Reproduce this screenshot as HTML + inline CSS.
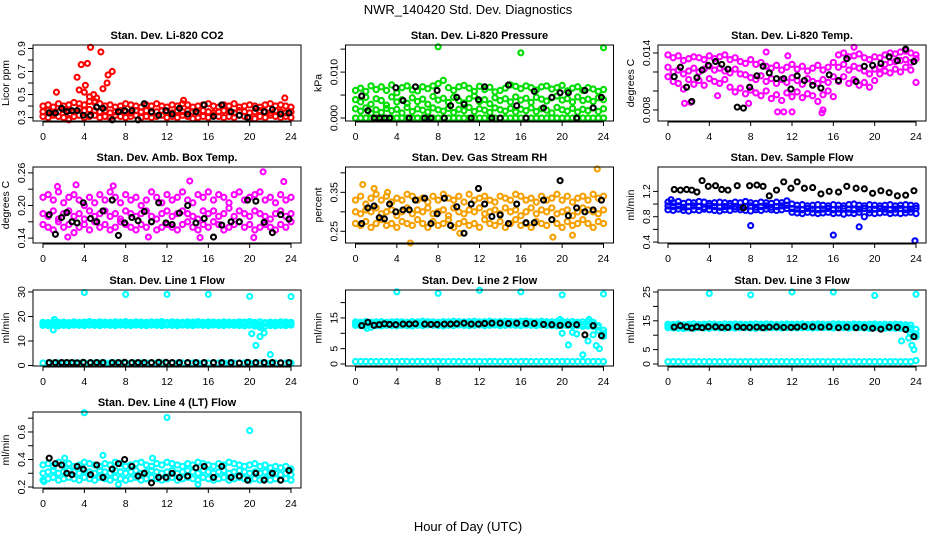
<!DOCTYPE html>
<html><head><meta charset="utf-8"><style>
html,body{margin:0;padding:0;background:#fff}
svg{display:block;font-family:"Liberation Sans",sans-serif}
</style></head><body>
<svg id="c" width="936" height="540" viewBox="0 0 936 540" xmlns="http://www.w3.org/2000/svg">
<text x="468" y="14" text-anchor="middle" font-size="13">NWR_140420  Std. Dev. Diagnostics</text>
<text x="468" y="531" text-anchor="middle" font-size="13">Hour of Day (UTC)</text>
</svg>
<script>
const xTicks=[0,4,8,12,16,20,24];
const blkHours=[0.6,1.2,1.8,2.3,2.8,3.3,3.9,4.6,5.2,5.8,6.7,7.3,7.9,8.6,9.2,9.8,10.5,11.2,11.9,12.5,13.2,14.0,14.8,15.6,16.5,17.3,18.2,19.0,19.8,20.6,21.4,22.2,23.0,23.8];

const co2Hi=[0.40,0.41,0.39,0.42,0.40,0.41,0.43,0.42,0.41,0.44,0.43,0.42,0.40,0.41,0.39,0.40,0.42,0.41,0.40,0.39,0.41,0.40,0.42,0.40,0.39,0.41,0.40,0.42,0.41,0.39,0.40,0.41,0.42,0.40,0.39,0.41,0.40,0.42,0.39,0.40,0.41,0.40,0.39,0.41,0.42,0.40,0.41,0.40,0.39];
const co2Mid=[0.35,0.36,0.34,0.35,0.37,0.36,0.35,0.38,0.36,0.37,0.36,0.35,0.36,0.34,0.35,0.36,0.35,0.34,0.36,0.35,0.36,0.34,0.35,0.36,0.35,0.34,0.36,0.35,0.36,0.35,0.34,0.36,0.35,0.34,0.35,0.36,0.35,0.34,0.36,0.35,0.34,0.35,0.36,0.35,0.34,0.36,0.35,0.34,0.35];
const co2Lo=[0.31,0.30,0.32,0.31,0.30,0.29,0.31,0.32,0.30,0.31,0.32,0.30,0.31,0.30,0.32,0.31,0.30,0.31,0.32,0.30,0.31,0.30,0.31,0.32,0.30,0.31,0.30,0.32,0.31,0.29,0.30,0.31,0.30,0.32,0.31,0.30,0.31,0.30,0.32,0.31,0.30,0.29,0.31,0.30,0.32,0.31,0.30,0.31,0.30];
const co2OutX=[1.3,3.3,3.5,3.7,4.3,4.6,5.6,6.3,6.7,6.2,5.8,4.1,4.9,5.2,4.5,13.6,23.4,2.5,4.0,5.0];
const co2OutY=[0.52,0.65,0.54,0.76,0.77,0.91,0.87,0.67,0.70,0.60,0.55,0.58,0.50,0.47,0.48,0.45,0.47,0.28,0.52,0.44];
const co2Blk=[0.34,0.34,0.38,0.35,0.36,0.36,0.32,0.32,0.39,0.38,0.28,0.35,0.36,0.36,0.28,0.42,0.35,0.32,0.36,0.33,0.38,0.33,0.35,0.41,0.31,0.41,0.35,0.32,0.30,0.38,0.35,0.37,0.33,0.34];

const prsHi=[0.006,0.0065,0.0058,0.007,0.0062,0.0068,0.006,0.0072,0.0055,0.0066,0.007,0.0061,0.0059,0.0068,0.0064,0.007,0.0075,0.0082,0.0066,0.006,0.0068,0.0071,0.0065,0.0058,0.0069,0.0062,0.0067,0.0057,0.006,0.0065,0.0072,0.0069,0.0064,0.007,0.0066,0.0061,0.0068,0.007,0.0063,0.0066,0.0071,0.0059,0.0065,0.0068,0.006,0.0066,0.0063,0.0058,0.0062];
const prsMid=[0.004,0.0035,0.0045,0.003,0.0042,0.0038,0.0028,0.0046,0.0035,0.004,0.0032,0.0044,0.0036,0.0041,0.003,0.0047,0.0039,0.0043,0.0034,0.0045,0.0038,0.0033,0.0042,0.0048,0.0036,0.004,0.0031,0.0044,0.0038,0.0042,0.0035,0.0046,0.0039,0.0043,0.0034,0.0045,0.0041,0.0037,0.0044,0.0048,0.0039,0.0042,0.0035,0.0046,0.0038,0.0041,0.0036,0.0044,0.004];
const prsLo=[0.002,0.0015,0.0022,0.001,0.0018,0.0012,0.0021,0.0016,0.0019,0.0011,0.0023,0.0014,0.002,0.0017,0.0013,0.0022,0.0018,0.0015,0.0021,0.0012,0.0019,0.0016,0.0023,0.0014,0.002,0.0017,0.0012,0.0022,0.0018,0.0015,0.0021,0.0013,0.0019,0.0016,0.0022,0.0014,0.002,0.0017,0.0011,0.0023,0.0018,0.0015,0.0021,0.0013,0.0019,0.0016,0.0022,0.0014,0.002];
const prsBase=[0,0,0,0,0,0,0,0,0,0,0,0,0,0,0,0,0,0,0,0,0,0,0,0,0,0,0,0,0,0,0,0,0,0,0,0,0,0,0,0,0,0,0,0,0,0,0,0,0];
const prsOutX=[8,16,24];
const prsOutY=[0.0155,0.0142,0.0153];
const prsBlk=[0.0048,0.0016,0,0,0,0,0.0066,0.0038,0,0.0068,0,0,0.006,0,0.0027,0.0045,0.003,0,0.004,0.0068,0,0,0.0072,0.0027,0,0.0058,0.0022,0.0045,0.0055,0.0055,0,0.006,0.0022,0.0045];

const tmpHi=[0.0138,0.0135,0.0137,0.0132,0.0134,0.0136,0.0135,0.0133,0.0137,0.0134,0.0136,0.0138,0.0133,0.0135,0.0131,0.0129,0.0133,0.0128,0.0130,0.0126,0.0124,0.0127,0.0122,0.0125,0.0128,0.0123,0.0126,0.0121,0.0124,0.0127,0.0122,0.0125,0.0130,0.0138,0.0140,0.0136,0.0137,0.0139,0.0135,0.0133,0.0136,0.0135,0.0138,0.0140,0.0139,0.0141,0.0142,0.0140,0.0138];
const tmpMid=[0.0125,0.0120,0.0122,0.0118,0.0121,0.0124,0.0120,0.0123,0.0126,0.0122,0.0124,0.0121,0.0119,0.0123,0.0118,0.0117,0.0114,0.0112,0.0116,0.0110,0.0113,0.0108,0.0112,0.0109,0.0114,0.0111,0.0107,0.0113,0.0110,0.0108,0.0112,0.0109,0.0115,0.0125,0.0128,0.0122,0.0126,0.0124,0.0121,0.0118,0.0123,0.0125,0.0128,0.0130,0.0131,0.0132,0.0133,0.0130,0.0134];
const tmpLo=[0.0115,0.0110,0.0108,0.0102,0.0112,0.0107,0.0111,0.0106,0.0113,0.0110,0.0108,0.0112,0.0104,0.0099,0.0103,0.0097,0.0101,0.0098,0.0095,0.0100,0.0092,0.0096,0.0090,0.0098,0.0094,0.0099,0.0093,0.0097,0.0095,0.0089,0.0096,0.0100,0.0094,0.0110,0.0115,0.0108,0.0112,0.0106,0.0109,0.0104,0.0111,0.0118,0.0121,0.0119,0.0123,0.0120,0.0125,0.0122,0.0109];
const tmpOutX=[4.8,7.8,10.6,11.2,12,14.9,15,18,9.5,11.6,1.6,2.2];
const tmpOutY=[0.0095,0.0087,0.0078,0.0078,0.0078,0.0077,0.0080,0.0146,0.0141,0.0137,0.0087,0.0088];
const tmpBlk=[0.0115,0.0125,0.0104,0.0089,0.0114,0.0122,0.0127,0.0131,0.0128,0.0123,0.0083,0.0082,0.0104,0.0116,0.0126,0.0119,0.0113,0.0113,0.0102,0.0116,0.0111,0.0106,0.0103,0.0117,0.0111,0.0134,0.0110,0.0126,0.0127,0.0129,0.0136,0.0132,0.0144,0.0131];

const ambHi=[0.215,0.22,0.21,0.225,0.205,0.215,0.22,0.21,0.2,0.215,0.205,0.22,0.21,0.225,0.215,0.205,0.22,0.21,0.215,0.2,0.21,0.225,0.215,0.205,0.22,0.21,0.215,0.225,0.21,0.205,0.22,0.215,0.225,0.21,0.22,0.215,0.205,0.22,0.225,0.21,0.215,0.22,0.225,0.21,0.215,0.205,0.22,0.21,0.215];
const ambMid=[0.185,0.18,0.19,0.175,0.185,0.19,0.18,0.185,0.175,0.19,0.18,0.185,0.19,0.18,0.185,0.175,0.19,0.185,0.18,0.185,0.19,0.18,0.175,0.185,0.19,0.18,0.185,0.19,0.185,0.18,0.175,0.19,0.185,0.19,0.18,0.185,0.195,0.18,0.19,0.185,0.18,0.19,0.185,0.18,0.175,0.185,0.19,0.18,0.185];
const ambLo=[0.165,0.16,0.155,0.17,0.16,0.165,0.15,0.16,0.165,0.155,0.17,0.16,0.165,0.155,0.16,0.17,0.165,0.16,0.155,0.165,0.16,0.17,0.155,0.16,0.165,0.16,0.155,0.165,0.17,0.16,0.155,0.165,0.16,0.17,0.165,0.155,0.16,0.165,0.17,0.16,0.165,0.155,0.16,0.165,0.16,0.155,0.165,0.16,0.17];
const ambOutX=[1.4,3.2,6.8,14.2,21.3,23.3,2.4,10.2,20.4,15.2];
const ambOutY=[0.235,0.238,0.236,0.245,0.262,0.244,0.142,0.142,0.141,0.141];
const ambBlk=[0.183,0.147,0.178,0.187,0.170,0.168,0.205,0.176,0.170,0.190,0.210,0.145,0.168,0.178,0.172,0.189,0.170,0.205,0.168,0.165,0.186,0.200,0.168,0.176,0.142,0.164,0.170,0.170,0.210,0.208,0.169,0.150,0.183,0.175];

const rhHi=[0.33,0.34,0.32,0.335,0.345,0.33,0.34,0.325,0.335,0.33,0.345,0.34,0.33,0.335,0.325,0.34,0.33,0.345,0.335,0.33,0.34,0.325,0.345,0.33,0.335,0.34,0.33,0.325,0.34,0.335,0.33,0.345,0.34,0.33,0.335,0.325,0.34,0.33,0.335,0.345,0.33,0.34,0.325,0.335,0.34,0.33,0.345,0.335,0.34];
const rhMid=[0.30,0.295,0.305,0.30,0.31,0.295,0.30,0.305,0.29,0.30,0.31,0.295,0.305,0.30,0.31,0.295,0.30,0.305,0.29,0.31,0.30,0.295,0.305,0.30,0.31,0.295,0.30,0.305,0.295,0.31,0.30,0.305,0.29,0.30,0.31,0.295,0.305,0.30,0.31,0.295,0.30,0.305,0.29,0.30,0.31,0.305,0.30,0.295,0.305];
const rhLo=[0.27,0.265,0.275,0.26,0.27,0.28,0.265,0.27,0.26,0.275,0.27,0.265,0.28,0.27,0.26,0.275,0.265,0.27,0.28,0.26,0.27,0.275,0.265,0.27,0.26,0.28,0.27,0.265,0.275,0.26,0.27,0.28,0.265,0.27,0.26,0.275,0.27,0.265,0.28,0.27,0.26,0.275,0.265,0.27,0.28,0.27,0.26,0.275,0.27];
const rhOutX=[0.7,1.8,5.3,23.4,19.1,21,10.1,3.1];
const rhOutY=[0.37,0.36,0.22,0.41,0.235,0.24,0.245,0.35];
const rhBlk=[0.27,0.31,0.315,0.285,0.282,0.32,0.30,0.305,0.305,0.33,0.335,0.27,0.295,0.335,0.265,0.313,0.245,0.32,0.36,0.32,0.288,0.292,0.27,0.32,0.272,0.272,0.33,0.28,0.38,0.29,0.31,0.30,0.305,0.33];

const sfHi=[1.03,1.02,1.04,1.01,1.03,1.02,1.04,1.03,1.01,1.02,1.03,1.02,1.01,1.03,1.02,1.04,1.02,1.01,1.03,1.02,1.01,1.03,1.02,1.05,1.0,0.98,0.99,0.97,0.98,0.99,0.98,0.97,0.99,0.98,0.97,0.99,1.0,0.98,0.97,0.99,0.98,0.97,0.98,0.99,0.97,0.98,0.99,0.98,0.97];
const sfMid=[0.97,0.96,0.97,0.95,0.96,0.97,0.96,0.95,0.97,0.96,0.95,0.96,0.97,0.96,0.95,0.96,0.97,0.95,0.96,0.97,0.95,0.96,0.97,0.98,0.93,0.92,0.91,0.93,0.92,0.91,0.92,0.93,0.91,0.92,0.93,0.92,0.91,0.92,0.93,0.91,0.92,0.93,0.92,0.91,0.92,0.93,0.91,0.92,0.93];
const sfLo=[0.91,0.90,0.92,0.90,0.89,0.91,0.90,0.92,0.91,0.90,0.89,0.91,0.90,0.92,0.91,0.90,0.89,0.91,0.90,0.92,0.91,0.90,0.91,0.93,0.87,0.86,0.85,0.87,0.86,0.85,0.86,0.87,0.85,0.86,0.84,0.86,0.85,0.87,0.80,0.86,0.85,0.86,0.87,0.85,0.86,0.85,0.86,0.87,0.85];
const sfOutX=[8,16,18.5,23.9,0.3];
const sfOutY=[0.66,0.51,0.64,0.42,1.07];
const sfBlk=[1.23,1.22,1.23,1.22,1.19,1.37,1.28,1.29,1.23,1.22,1.29,0.94,1.29,1.30,1.28,1.13,1.22,1.35,1.25,1.35,1.25,1.26,1.16,1.20,1.19,1.28,1.25,1.24,1.17,1.21,1.18,1.13,1.14,1.21];

const l1Hi=[17.6,17.5,17.8,17.6,17.7,17.5,17.8,17.6,17.7,17.9,17.6,17.8,17.7,17.6,17.8,17.7,17.9,17.6,17.8,17.7,17.6,17.8,17.7,17.9,17.6,17.8,17.7,17.6,17.8,17.7,17.9,17.6,17.8,17.7,17.6,17.8,17.7,17.6,17.8,17.7,17.9,17.6,17.8,17.5,17.7,17.6,17.8,17.7,17.6];
const l1Mid=[17.0,16.9,17.1,17.0,16.9,17.1,17.0,17.1,16.9,17.0,17.1,17.0,16.9,17.1,17.0,17.1,17.0,16.9,17.1,17.0,17.1,16.9,17.0,17.1,17.0,16.9,17.1,17.0,17.1,16.9,17.0,17.1,17.0,16.9,17.1,17.0,17.1,16.9,17.0,17.1,17.0,16.9,16.8,17.0,16.9,17.0,16.9,17.0,17.1];
const l1Lo=[16.4,16.3,16.5,16.2,16.4,16.3,16.5,16.4,16.3,16.5,16.4,16.3,16.5,16.4,16.3,16.5,16.4,16.3,16.5,16.4,16.3,16.5,16.4,16.3,16.5,16.4,16.3,16.5,16.4,16.3,16.5,16.4,16.3,16.5,16.4,16.3,16.5,16.4,16.3,16.2,16.4,16.1,16.2,16.0,16.3,16.2,16.4,16.3,16.5];
const l1Base=[1.0,1.0,1.0,1.0,1.0,1.0,1.0,1.0,1.0,1.0,1.0,1.0,1.0,1.0,1.0,1.0,1.0,1.0,1.0,1.0,1.0,1.0,1.0,1.0,1.0,1.0,1.0,1.0,1.0,1.0,1.0,1.0,1.0,1.0,1.0,1.0,1.0,1.0,1.0,1.0,1.0,1.0,1.0,1.0,1.0,1.0,1.0,1.0,1.0];
const l1OutX=[1.1,1.0,4,8,12,16,20,24,20.2,20.6,21,21.4,21.0,22];
const l1OutY=[18.8,14.5,29.8,29,29,29,28.2,28.1,13,8.2,11.8,13.3,15.5,4.5];
const l1Blk=[1.2,1.2,1.2,1.2,1.2,1.1,1.3,1.2,1.2,1.2,1.2,1.2,1.3,1.2,1.2,1.2,1.2,1.3,1.3,1.2,1.2,1.2,1.2,1.2,1.2,1.2,1.2,1.0,1.3,1.2,1.2,1.2,1.1,1.2];

const l2Hi=[13.7,13.6,13.8,13.6,13.7,13.8,13.6,13.7,13.8,13.7,13.6,13.8,13.7,13.9,13.8,13.7,13.6,13.8,13.7,13.9,13.8,13.7,13.8,13.9,13.7,13.8,13.9,13.7,13.8,13.9,13.8,13.7,13.9,14.0,13.8,13.7,13.9,13.8,13.7,13.8,13.9,13.7,13.8,13.6,13.7,13.8,13.6,12.5,11.0];
const l2Mid=[13.1,13.0,13.2,12.9,13.1,13.0,13.2,13.1,13.0,13.2,13.1,13.0,13.2,13.1,13.3,13.2,13.1,13.0,13.2,13.1,13.3,13.2,13.1,13.2,13.3,13.1,13.2,13.3,13.1,13.2,13.3,13.2,13.1,13.3,13.2,13.1,13.3,13.2,13.1,13.0,13.2,13.1,13.0,13.1,12.9,13.0,12.8,12.0,10.0];
const l2Lo=[12.6,12.5,12.4,12.0,12.5,12.4,12.6,12.5,12.4,12.6,12.5,12.4,12.6,12.5,12.7,12.6,12.5,12.4,12.6,12.5,12.7,12.6,12.5,12.6,12.7,12.5,12.6,12.7,12.5,12.6,12.7,12.6,12.5,12.7,12.6,12.5,12.7,12.6,12.5,12.4,12.6,12.5,12.4,12.5,12.3,12.4,12.2,11.0,9.0];
const l2Base=[0.8,0.8,0.8,0.8,0.8,0.8,0.8,0.8,0.8,0.8,0.8,0.8,0.8,0.8,0.8,0.8,0.8,0.8,0.8,0.8,0.8,0.8,0.8,0.8,0.8,0.8,0.8,0.8,0.8,0.8,0.8,0.8,0.8,0.8,0.8,0.8,0.8,0.8,0.8,0.8,0.8,0.8,0.8,0.8,0.8,0.8,0.8,0.8,0.8];
const l2OutX=[4,8,12,16,20,24,1.1,20,20.6,21,21.4,22,22.5,23,23.3,23.6,19.8,22.6];
const l2OutY=[23.5,23,24,23.5,22.5,22.8,11.6,10,6.2,10.3,9.8,3,7.5,9.5,6,5,14.5,14.5];
const l2Blk=[12.5,13.6,12.6,12.8,13.1,12.9,12.8,13.0,13.0,13.1,13.0,12.9,12.9,13.0,13.0,13.1,13.3,13.0,13.0,13.2,13.3,13.3,13.2,13.3,13.2,13.2,12.9,12.8,12.6,12.8,12.8,9.5,12.5,9.2];

const l3Hi=[13.8,13.7,13.9,13.6,13.8,13.9,13.7,13.8,13.9,13.8,13.7,13.9,13.8,13.9,13.8,13.7,13.8,13.9,13.8,13.9,13.8,13.7,13.8,13.9,13.8,13.8,13.9,13.7,13.8,13.9,13.8,13.7,13.9,13.9,13.8,13.7,13.9,13.8,13.7,13.8,13.9,13.7,13.8,13.7,13.8,13.7,13.6,13.5,12.0];
const l3Mid=[13.1,13.0,13.2,12.9,13.1,13.0,13.2,13.1,13.0,13.2,13.1,13.0,13.2,13.1,13.2,13.2,13.1,13.0,13.2,13.1,13.2,13.2,13.1,13.2,13.2,13.1,13.2,13.2,13.1,13.2,13.2,13.2,13.1,13.2,13.2,13.1,13.2,13.2,13.1,13.0,13.2,13.1,13.0,13.1,13.0,13.0,12.9,12.5,10.5];
const l3Lo=[12.6,12.5,12.4,12.3,12.5,12.4,12.6,12.5,12.4,12.6,12.5,12.4,12.6,12.5,12.6,12.6,12.5,12.4,12.6,12.5,12.6,12.6,12.5,12.6,12.6,12.5,12.6,12.6,12.5,12.6,12.6,12.6,12.5,12.6,12.6,12.5,12.6,12.6,12.5,12.4,12.6,12.5,12.4,12.5,12.4,12.4,12.3,12.0,9.5];
const l3Base=[0.8,0.8,0.8,0.8,0.8,0.8,0.8,0.8,0.8,0.8,0.8,0.8,0.8,0.8,0.8,0.8,0.8,0.8,0.8,0.8,0.8,0.8,0.8,0.8,0.8,0.8,0.8,0.8,0.8,0.8,0.8,0.8,0.8,0.8,0.8,0.8,0.8,0.8,0.8,0.8,0.8,0.8,0.8,0.8,0.8,0.8,0.8,0.8,1.2];
const l3OutX=[4,8,12,16,20,24,22.6,23.3,23.6,23.8,23.4];
const l3OutY=[24.5,24,25,25,23.8,24.2,8,9,6.5,5,11];
const l3Blk=[12.8,13.3,12.9,12.5,12.9,12.6,12.9,12.9,12.7,12.7,12.9,12.7,12.7,12.8,12.6,12.8,12.9,12.7,12.7,12.8,13.0,12.9,12.8,12.9,12.6,12.8,12.6,12.7,12.4,12.1,12.8,12.7,12.0,9.5];

const l4Hi=[0.36,0.37,0.35,0.38,0.36,0.37,0.35,0.36,0.38,0.37,0.36,0.35,0.37,0.36,0.38,0.37,0.35,0.36,0.37,0.38,0.36,0.35,0.37,0.36,0.38,0.37,0.36,0.35,0.37,0.36,0.38,0.37,0.36,0.35,0.37,0.36,0.38,0.37,0.36,0.35,0.36,0.37,0.35,0.36,0.34,0.35,0.34,0.35,0.33];
const l4Mid=[0.30,0.31,0.32,0.30,0.31,0.32,0.31,0.30,0.32,0.31,0.30,0.32,0.31,0.30,0.32,0.31,0.30,0.31,0.32,0.30,0.31,0.32,0.31,0.30,0.31,0.32,0.30,0.31,0.32,0.31,0.30,0.32,0.31,0.30,0.31,0.32,0.30,0.31,0.32,0.31,0.30,0.31,0.30,0.31,0.29,0.30,0.29,0.30,0.29];
const l4Lo=[0.25,0.26,0.27,0.25,0.26,0.27,0.26,0.25,0.27,0.26,0.25,0.27,0.26,0.25,0.27,0.26,0.25,0.26,0.27,0.25,0.26,0.27,0.26,0.25,0.26,0.27,0.25,0.26,0.27,0.26,0.25,0.27,0.26,0.25,0.26,0.27,0.25,0.26,0.27,0.26,0.25,0.26,0.25,0.26,0.25,0.26,0.25,0.26,0.25];
const l4OutX=[4,12,20,5.8,7.3,15,0.1,2.1,10.6];
const l4OutY=[0.74,0.705,0.61,0.43,0.22,0.22,0.24,0.41,0.41];
const l4Blk=[0.41,0.37,0.36,0.30,0.29,0.35,0.33,0.29,0.36,0.27,0.33,0.37,0.40,0.35,0.28,0.30,0.23,0.27,0.27,0.30,0.27,0.28,0.34,0.35,0.27,0.35,0.27,0.28,0.25,0.30,0.25,0.30,0.25,0.32];

const panels=[
 {name:'co2',col:0,row:0,title:'Stan. Dev. Li-820 CO2',ylab:'Licor ppm',dom:[0.27,0.93],ticks:[0.3,0.4,0.5,0.6,0.7,0.8,0.9],labels:{0.3:'0.3',0.5:'0.5',0.7:'0.7',0.9:'0.9'},color:'#ff0000',rows:[co2Hi,co2Mid,co2Lo],ox:co2OutX,oy:co2OutY,blk:co2Blk},
 {name:'pressure',col:1,row:0,title:'Stan. Dev. Li-820 Pressure',ylab:'kPa',dom:[-0.00065,0.0159],ticks:[0,0.005,0.010,0.015],labels:{0:'0.000',0.01:'0.010'},color:'#00dd00',rows:[prsBase,prsHi,prsMid,prsLo],ox:prsOutX,oy:prsOutY,blk:prsBlk},
 {name:'temp',col:2,row:0,title:'Stan. Dev. Li-820 Temp.',ylab:'degrees C',dom:[0.00684,0.01484],ticks:[0.008,0.010,0.012,0.014],labels:{0.008:'0.008',0.014:'0.014'},color:'#ff00ff',rows:[tmpHi,tmpMid,tmpLo],ox:tmpOutX,oy:tmpOutY,blk:tmpBlk},
 {name:'amb-box',col:0,row:1,title:'Stan. Dev. Amb. Box Temp.',ylab:'degrees C',dom:[0.131,0.2708],ticks:[0.14,0.17,0.20,0.23,0.26],labels:{0.14:'0.14',0.2:'0.20',0.26:'0.26'},color:'#ff00ff',rows:[ambHi,ambMid,ambLo],ox:ambOutX,oy:ambOutY,blk:ambBlk},
 {name:'rh',col:1,row:1,title:'Stan. Dev. Gas Stream RH',ylab:'percent',dom:[0.22,0.415],ticks:[0.25,0.30,0.35,0.40],labels:{0.25:'0.25',0.35:'0.35'},color:'#f5a000',rows:[rhHi,rhMid,rhLo],ox:rhOutX,oy:rhOutY,blk:rhBlk},
 {name:'sample-flow',col:2,row:1,title:'Stan. Dev. Sample Flow',ylab:'ml/min',dom:[0.385,1.585],ticks:[0.4,0.6,0.8,1.0,1.2],labels:{0.4:'0.4',0.8:'0.8',1.2:'1.2'},color:'#0000ff',rows:[sfHi,sfMid,sfLo],ox:sfOutX,oy:sfOutY,blk:sfBlk},
 {name:'line1',col:0,row:2,title:'Stan. Dev. Line 1 Flow',ylab:'ml/min',dom:[-0.2,30.8],ticks:[0,10,20,30],labels:{0:'0',10:'10',20:'20',30:'30'},color:'#00ffff',rows:[l1Base,l1Hi,l1Mid,l1Lo],ox:l1OutX,oy:l1OutY,blk:l1Blk},
 {name:'line2',col:1,row:2,title:'Stan. Dev. Line 2 Flow',ylab:'ml/min',dom:[-0.65,24.1],ticks:[0,5,10,15,20],labels:{0:'0',5:'5',15:'15'},color:'#00ffff',rows:[l2Base,l2Hi,l2Mid,l2Lo],ox:l2OutX,oy:l2OutY,blk:l2Blk},
 {name:'line3',col:2,row:2,title:'Stan. Dev. Line 3 Flow',ylab:'ml/min',dom:[-0.7,25.7],ticks:[0,5,10,15,20,25],labels:{0:'0',5:'5',15:'15',25:'25'},color:'#00ffff',rows:[l3Base,l3Hi,l3Mid,l3Lo],ox:l3OutX,oy:l3OutY,blk:l3Blk},
 {name:'line4',col:0,row:3,title:'Stan. Dev. Line 4 (LT) Flow',ylab:'ml/min',dom:[0.193,0.745],ticks:[0.2,0.3,0.4,0.5,0.6,0.7],labels:{0.2:'0.2',0.4:'0.4',0.6:'0.6'},color:'#00ffff',rows:[l4Hi,l4Mid,l4Lo],ox:l4OutX,oy:l4OutY,blk:l4Blk}
];

const svg=document.getElementById('c');
const NS='http://www.w3.org/2000/svg';
function mk(tag,attrs,parent){const e=document.createElementNS(NS,tag);for(const k in attrs)e.setAttribute(k,attrs[k]);(parent||svg).appendChild(e);return e;}
const colLeft=[33,345.5,658], rowTop=[45,167,290,412], boxW=268, boxH=76;

panels.forEach(p=>{
  const L=colLeft[p.col], T=rowTop[p.row], R=L+boxW, B=T+boxH;
  const g=mk('g',{});
  
  
  const xs=h=>L+10+(h/24)*(boxW-20);
  const ys=v=>B-(v-p.dom[0])/(p.dom[1]-p.dom[0])*boxH;
  const title=mk('text',{x:(L+R)/2,y:T-6,'text-anchor':'middle','font-size':'11','font-weight':'bold'},g);
  title.textContent=p.title;
  
  
  const marks=mk('g',{fill:'none','stroke-width':'2.1'},g);
  
  
  p.rows.forEach(arr=>{arr.forEach((v,i)=>{const c=mk('circle',{cx:xs(i*24/(arr.length-1)),cy:ys(v),r:2.6,stroke:p.color},marks);
    
    });});
  p.ox.forEach((h,i)=>{const c=mk('circle',{cx:xs(h),cy:ys(p.oy[i]),r:2.5,stroke:p.color},marks);
    
    });
  p.blk.forEach((v,i)=>{const c=mk('circle',{cx:xs(blkHours[i]),cy:ys(v),r:2.5,stroke:'#000'},marks);
    
    });
  const box=mk('rect',{x:L,y:T,width:boxW,height:boxH,fill:'none',stroke:'#000','stroke-width':'1'},g);
  
  
  const xa=mk('g',{},g);
  
  
  mk('line',{x1:xs(0),x2:xs(24),y1:B+1,y2:B+1,stroke:'#000'},xa);
  xTicks.forEach(t=>{mk('line',{x1:xs(t),x2:xs(t),y1:B,y2:B+5,stroke:'#000'},xa);
    const tx=mk('text',{x:xs(t),y:B+19,'text-anchor':'middle','font-size':'10.5'},xa);tx.textContent=t;
    
    });
  const ya=mk('g',{},g);
  
  
  mk('line',{x1:L,x2:L,y1:ys(p.ticks[0]),y2:ys(p.ticks[p.ticks.length-1]),stroke:'#000'},ya);
  p.ticks.forEach(t=>{const y=ys(t);mk('line',{x1:L-5,x2:L,y1:y,y2:y,stroke:'#000'},ya);
    const lab=p.labels[t];
    if(lab!==undefined){const tx=mk('text',{x:L-8,y:y,'text-anchor':'middle','font-size':'10.5',transform:'rotate(-90 '+(L-8)+' '+y+')'},ya);tx.textContent=lab;
      
      }});
  const yl=mk('text',{x:L-24,y:(T+B)/2,'text-anchor':'middle','font-size':'10.5',transform:'rotate(-90 '+(L-24)+' '+((T+B)/2)+')'},g);
  yl.textContent=p.ylab;
  
  
});
</script>
</body></html>
